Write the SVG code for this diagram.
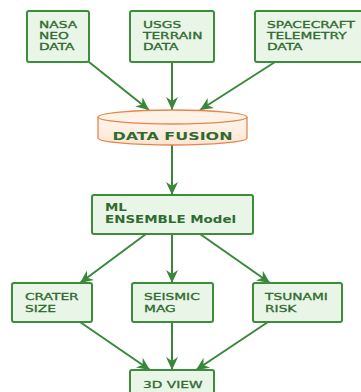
<svg xmlns="http://www.w3.org/2000/svg" width="361" height="392" viewBox="0 0 361 392">
<defs>
<marker id="ah" markerUnits="userSpaceOnUse" markerWidth="14" markerHeight="14" viewBox="0 0 14 14" refX="13" refY="7" orient="auto">
<path d="M0,1 L13,7 L0,13 L4,7 z" fill="#3a873a"/>
</marker>
<linearGradient id="cyl" x1="0" y1="0" x2="0" y2="1">
<stop offset="0" stop-color="#fff6ee"/>
<stop offset="1" stop-color="#fde6d2"/>
</linearGradient>
</defs>
<style>
.box{fill:#e9f5e6;stroke:#3c8c3c;stroke-width:2}
.t{font-family:"DejaVu Sans",sans-serif;font-size:9.5px;fill:#2f6b30;stroke:#2f6b30;stroke-width:0.3}
.b{font-family:"DejaVu Sans",sans-serif;font-size:10.5px;font-weight:bold;fill:#2f6b30}
.c{fill:none;stroke:#3a873a;stroke-width:2;marker-end:url(#ah)}
</style>
<rect width="361" height="392" fill="#ffffff"/>
<g id="connectors">
<line class="c" x1="89" y1="62" x2="149" y2="110"/>
<line class="c" x1="172" y1="62" x2="172" y2="110"/>
<line class="c" x1="275" y1="62" x2="200" y2="110"/>
<line class="c" x1="172" y1="145" x2="172" y2="195"/>
<line class="c" x1="146" y1="234" x2="80" y2="283"/>
<line class="c" x1="172" y1="234" x2="172" y2="283"/>
<line class="c" x1="200" y1="234" x2="270" y2="283"/>
<line class="c" x1="80" y1="322" x2="150" y2="370"/>
<line class="c" x1="172" y1="322" x2="172" y2="370"/>
<line class="c" x1="268" y1="322" x2="196" y2="370"/>
</g>
<g id="nasa">
<rect class="box" x="27" y="11" width="62" height="51" rx="2"/>
<text class="t" transform="translate(39 28) scale(1.45 1)"><tspan x="0" y="0">NASA</tspan><tspan x="0" y="11">NEO</tspan><tspan x="0" y="22.5">DATA</tspan></text>
</g>
<g id="usgs">
<rect class="box" x="130" y="11" width="84" height="51" rx="2"/>
<text class="t" transform="translate(143 28) scale(1.45 1)"><tspan x="0" y="0">USGS</tspan><tspan x="0" y="11">TERRAIN</tspan><tspan x="0" y="22.5">DATA</tspan></text>
</g>
<g id="spacecraft">
<rect class="box" x="255" y="11" width="112" height="51" rx="2"/>
<text class="t" transform="translate(267 28) scale(1.45 1)"><tspan x="0" y="0">SPACECRAFT</tspan><tspan x="0" y="11">TELEMETRY</tspan><tspan x="0" y="22.5">DATA</tspan></text>
</g>
<g id="fusion">
<path d="M98,117 L98,138 A74.5,7 0 0 0 247,138 L247,117" fill="url(#cyl)" stroke="#e8844c" stroke-width="1.3"/>
<ellipse cx="172.5" cy="117" rx="74.5" ry="7" fill="#fff3e8" stroke="#e8844c" stroke-width="1.3"/>
<text class="b" text-anchor="middle" transform="translate(172.5 139.5) scale(1.52 1)" x="0" y="0">DATA FUSION</text>
</g>
<g id="ml">
<rect class="box" x="92" y="195" width="161" height="39" rx="2"/>
<text class="b" transform="translate(105 211) scale(1.28 1)"><tspan x="0" y="0">ML</tspan><tspan x="0" y="12">ENSEMBLE Model</tspan></text>
</g>
<g id="crater">
<rect class="box" x="12" y="283" width="80" height="39" rx="2"/>
<text class="t" transform="translate(25 300) scale(1.45 1)"><tspan x="0" y="0">CRATER</tspan><tspan x="0" y="12">SIZE</tspan></text>
</g>
<g id="seismic">
<rect class="box" x="132" y="283" width="81" height="39" rx="2"/>
<text class="t" transform="translate(144 300) scale(1.45 1)"><tspan x="0" y="0">SEISMIC</tspan><tspan x="0" y="12">MAG</tspan></text>
</g>
<g id="tsunami">
<rect class="box" x="253" y="283" width="89" height="39" rx="2"/>
<text class="t" transform="translate(265 300) scale(1.45 1)"><tspan x="0" y="0">TSUNAMI</tspan><tspan x="0" y="12">RISK</tspan></text>
</g>
<g id="view3d">
<rect class="box" x="130" y="370" width="84" height="30" rx="2"/>
<text class="t" transform="translate(143 388) scale(1.45 1)">3D VIEW</text>
</g>
</svg>
